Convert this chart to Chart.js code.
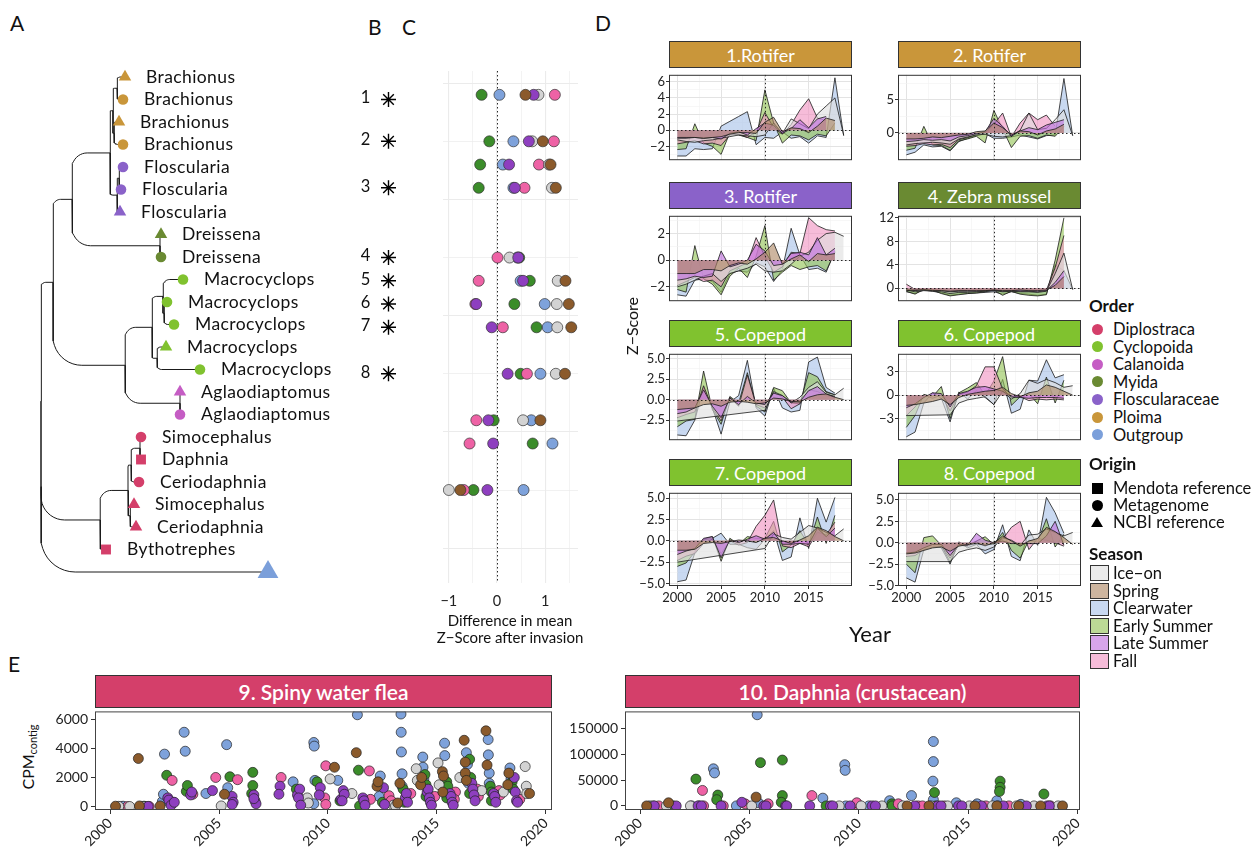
<!DOCTYPE html>
<html><head><meta charset="utf-8">
<script src="https://cdn.jsdelivr.net/npm/chart.js@4.4.1/dist/chart.umd.min.js"></script>
<style>
html,body{margin:0;padding:0;background:#fff;}
#fig{position:relative;width:1257px;height:854px;overflow:hidden;font-family:Lato,'Noto Sans',sans-serif;color:#111;}
#fig canvas{position:absolute;}
.t{position:absolute;white-space:nowrap;line-height:1;}
.strip{position:absolute;box-sizing:border-box;border:1px solid #333;color:#fff;display:flex;align-items:center;justify-content:center;white-space:nowrap;}
</style></head><body><div id="fig"></div>
<script>
// ================= DATA =================
const invasionYear = 2010;
const years = [2000,2001,2002,2003,2004,2005,2006,2007,2008,2009,2010,2011,2012,2013,2014,2015,2016,2017,2018,2019];
const seasons = ['Ice\u2212on','Spring','Clearwater','Early Summer','Late Summer','Fall'];
const orders = ['Diplostraca','Cyclopoida','Calanoida','Myida','Floscularaceae','Ploima','Outgroup'];
const origins = ['Mendota reference','Metagenome','NCBI reference'];

// Panel A: tree tips (name, tip depth, order, origin) and topology [nodeDepth, children...]
const tipNames = ['Brachionus','Brachionus','Brachionus','Brachionus','Floscularia','Floscularia','Floscularia','Dreissena','Dreissena','Macrocyclops','Macrocyclops','Macrocyclops','Macrocyclops','Macrocyclops','Aglaodiaptomus','Aglaodiaptomus','Simocephalus','Daphnia','Ceriodaphnia','Simocephalus','Ceriodaphnia','Bythotrephes',''];
const tipDepth = [125,123,119,123,123,121,120,161,161,183,167,174,166,200,180,180,141,141,139,134,136,106,268];
const tipOrder = ['Ploima','Ploima','Ploima','Ploima','Floscularaceae','Floscularaceae','Floscularaceae','Myida','Myida','Cyclopoida','Cyclopoida','Cyclopoida','Cyclopoida','Cyclopoida','Calanoida','Calanoida','Diplostraca','Diplostraca','Diplostraca','Diplostraca','Diplostraca','Diplostraca','Outgroup'];
const tipOrigin = ['NCBI reference','Metagenome','NCBI reference','Metagenome','Metagenome','Metagenome','NCBI reference','NCBI reference','Metagenome','Metagenome','Metagenome','Metagenome','NCBI reference','Metagenome','NCBI reference','Metagenome','Metagenome','Mendota reference','Metagenome','NCBI reference','NCBI reference','Mendota reference','NCBI reference'];
const treeTopology =
[41,
  [41,
    [53,
      [72,
        [110, [113,[117,0,1],[114,2,3]], [117,[119,4,5],6]],
        [160,7,8]],
      [125,
        [152,[163,9,[164,10,11]],[157,12,13]],
        [180,14,15]]],
    [100,[128,[131,[140,16,17],18],[130,19,20]],21]],
  22];

// Panel B / C
const bLabels = ['1','2','3','4','5','6','7','8'];
const bRows = [1.4,5,9,15,17,19,21,25];
const cRows = [1,5,7,9,15,17,19,21,25,29,31,35];
const cIce    = [0.86,0.73,1.08,1.14,0.26,1.26,1.24,1.25,1.22,0.54,null,-1.00];
const cSpring = [0.59,0.95,1.11,1.22,null,1.42,1.49,1.54,1.41,0.90,null,-0.76];
const cClear  = [0.05,0.34,0.12,0.34,0.42,0.49,0.99,1.05,0.90,0.71,1.15,0.55];
const cEarly  = [-0.32,-0.16,-0.35,-0.38,0.46,0.68,0.36,0.82,0.49,-0.07,0.74,-0.49];
const cLate   = [0.76,0.66,0.25,0.37,0.44,0.54,-0.43,-0.11,0.22,-0.18,-0.08,-0.20];
const cFall   = [1.20,1.18,0.87,0.57,0.01,-0.38,-0.45,0.12,0.62,-0.43,-0.57,-0.69];
const cTicks = [-1,0,1];

// Panel D: z-scores per season [Ice-on, Spring, Clearwater, Early Summer, Late Summer, Fall] per year
const facetTitles = ['1.Rotifer','2. Rotifer','3. Rotifer','4. Zebra mussel','5. Copepod','6. Copepod','7. Copepod','8. Copepod'];
const facetOrder = ['Ploima','Ploima','Floscularaceae','Myida','Cyclopoida','Cyclopoida','Cyclopoida','Cyclopoida'];
const facetYMin = [-3.72,-4.1,-3.08,-2.2,-4.94,-5.73,-5.3,-5.05];
const facetYMax = [6.87,8.76,3.34,12.35,5.6,5.26,5.64,5.83];
const facetYStep = [2,5,2,4,2.5,3,2.5,2.5];
const z1 = [
 [-1.2,-1.4,-1.5,-1.3,-1.2,-1.0,-0.8,-0.6,-0.7,-0.8,-0.6, 0.9,-0.4, 1.4, 0.8, 0.2, 2.0, 3.0, 4.0,-0.6],
 [-0.9,-0.9,-0.9,-1.0,-0.9,-0.8,-0.5,-0.3,-0.3,-0.4, 1.0, 1.6,-0.2, 0.3, 0.2,-0.3, 0.5, 1.5, 1.2,null],
 [-3.2,-3.2,-2.3,-2.4,-2.3, 0.5, 1.1, 1.7, 2.3,-1.8,-0.9,-1.0,-0.2,-1.0,-0.8,-1.6,-0.7,-0.9, 6.5,-0.7],
 [-2.4,-2.3, 0.8,-1.6,-2.0,-3.0,-0.3,-0.6,-0.9,-1.3, 5.0, 0.9,-1.6,-0.6,-0.7,-1.2,-0.5,-0.7, 0.9,null],
 [-1.0,-1.0,-0.9,-1.0,-0.9,-1.1,-0.4,-0.2,-0.6, 0.2, 0.9, 0.6,-0.4, 0.2, 1.3, 0.3, 1.4, 1.7,null,null],
 [-1.7,-1.5,-1.3,-1.7,-1.6,-1.9,-0.6,-0.5,-0.9,-0.2, 2.2, 0.3,-0.5, 0.7, 2.5, 3.9, 1.5, 1.2,null,null]];
const z2 = [
 [-1.8,-1.6,-1.5,-1.4,-1.5,-1.7,-0.9,-0.6,-0.3,-0.2,-0.5,-0.6,-0.4, 0.4, 3.0, 0.5, 0.7, 2.0, 3.5,-0.4],
 [-0.9,-0.9,-0.8,-0.6,-0.7,-0.5,-0.3,-0.2, 0.2, 0.3, 1.5, 0.8,-0.3, 0.3, 0.2,-0.3, 0.3, 0.6, 1.3,null],
 [-3.3,-2.9,-1.8,-2.1,-2.0,-2.7,-1.3,-0.8,-0.4,-0.1,-0.8,-0.8,-0.6,-0.3,-0.6,-0.9,-0.4,-0.3, 8.2,-0.4],
 [-2.6,-2.3, 1.0,-1.8,-1.9,-2.6,-1.2,-0.9,-0.5,-1.5, 3.4, 0.6,-2.2,-0.5,-0.4,-0.8,-0.3,-0.5, 1.0,null],
 [-1.3,-1.2,-1.0,-1.1,-1.0,-1.2,-0.6,-0.4,-0.1, 0.2, 2.2, 1.0,-0.5, 0.3, 0.8, 0.5, 1.2, 1.6, 2.0,null],
 [-2.0,-1.9,-1.6,-1.8,-1.7,-2.2,-1.0,-0.7,-0.2, 0.0, 1.3, 3.0,-0.6, 1.5, 3.0, 2.0, 2.7, 1.0,null,null]];
const z3 = [
 [-2.0,-1.8,-1.5,-1.2,-1.0,-1.6,-1.0,-0.8,-0.6,-0.3,-0.8,-0.9,-0.8,-0.3, 0.3, 0.6, 1.5, 2.0, 2.1, 1.8],
 [-1.0,-1.0,-1.0,-0.7,-0.7,-0.8,-0.4,-0.2,-0.3, 0.1, 0.6, 1.3,-0.3, 0.1, 0.4,-0.1, 0.5, 0.4, 0.5,null],
 [-2.6,-2.7,-1.5,-1.4,-1.6,-2.4,-1.0,-0.8,-0.9,-0.2,-0.5,-1.6,-0.7, 2.4, 0.4,-0.7,-0.6,-0.9, 0.7,null],
 [-2.2,-2.4, 1.1,-1.4,-1.8,-2.6,-1.2,-0.6,-1.3, 0.3, 2.6,-1.5,-0.9,-0.4,-0.7,-0.5,-0.4,-0.8, 0.6,null],
 [-1.5,-1.4,-1.2,-1.3,-1.2, 0.7,-0.5,-0.3, 0.0, 1.2, 0.7,-0.4,-0.3, 0.5, 0.6, 0.4, 1.7, 0.4, 0.9,null],
 [-1.9,-1.6,-1.3,-1.6,-1.5,-2.0,-0.8,-0.5,-0.2, 1.7, 0.3,-0.9,-0.5, 0.6, 0.5, 3.2, 2.6, 2.3, 2.2,null]];
const z4 = [
 [-0.3,-0.6,-0.4,-0.5,-0.6,-0.9,-0.7,-0.7,-0.6,-0.5,-0.4,-0.6,-0.5,-0.6,-0.6,-0.7,-0.5, 2.5, 6.0,-0.2],
 [-0.4,-0.3,-0.3,-0.4,-0.4,-0.5,-0.4,-0.4,-0.4,-0.4,-0.3,-0.4,-0.4,-0.3,-0.4,-0.4,-0.3, 0.5, 2.0,null],
 [-0.6,-0.9,-0.3,-0.5,-0.8,-1.2,-1.0,-0.9,-0.8,-0.7,-0.6,-1.0,-0.6,-0.9,-1.0,-1.2,-1.0, 4.0, 3.0,-0.2],
 [-0.5,-1.0,-0.1,-0.3,-0.9,-1.3,-1.1,-0.9,-0.8,-0.6,-0.3,-1.2,-0.5,-1.0,-1.2,-1.3,-1.1, 4.8,12.0,null],
 [-0.2,-0.4,-0.2,-0.3,-0.4,-0.6,-0.5,-0.5,-0.5,-0.4,-0.3,-0.5,-0.4,-0.5,-0.5,-0.6,-0.4, 1.0, 3.0,null],
 [ 0.7,-0.2,-0.2,-0.3,-0.3,-0.4,-0.3,-0.4,-0.3,-0.3,-0.2,-0.3,-0.3,-0.3,-0.3,-0.4,-0.3, 3.5, 9.0,null]];
const z5 = [
 [-2.6,null,null,null,null,null,null,null,null,null,-1.3, 1.0, 0.5,-0.4, 0.3, 1.5, 2.2, 0.9, 0.6, 1.4],
 [-1.2,-1.1,-1.0,-0.6,-0.5,-0.8,-0.3,-0.2,-0.3,-0.5,-0.4, 0.2, 0.1,-0.2,-0.3, 0.3, 0.6, 0.7, 0.3, 0.0],
 [-4.3,-4.4,-2.5, 1.5,-1.0,-4.2,-0.3, 0.5, 4.8,-1.0,-2.0, 1.4,-1.0,-1.5,-1.3, 4.6, 5.2, 1.5, 0.8,null],
 [-3.3,-2.6,-2.4, 3.5,-1.2,-3.0, 0.4,-0.4, 3.3,-0.8,-1.5, 1.5, 1.1,-0.4,-0.5, 3.3, 2.8, 1.0, 0.6,null],
 [-1.7,-1.5,-1.0, 1.2,-0.8,-2.2, 0.2,-0.6, 0.4,-0.4,-0.6, 0.8, 0.5,-0.3,-0.2, 1.1, 1.6, 0.7, 0.4,null],
 [-2.2,-1.8,-1.5, 1.7,-1.0,-2.6, 0.3,-0.8, 3.0,-0.6,-1.0, 0.9, 0.3,-1.1,-0.5, 1.2, 1.0, 0.5, 0.3,null]];
const z6 = [
 [-2.6,null,null,null,null,-2.5,-1.0,-0.6,-0.4,-0.2,-1.2, 0.5,-0.5, 0.2, 1.9, 1.5, 2.0, 1.6, 1.0, 1.2],
 [-1.3,-1.2,-1.0,-0.8,-0.5,-1.2,-0.3, 0.1, 0.3, 0.5, 0.6, 1.0, 0.2,-0.2, 0.3, 0.5, 1.3, 1.0, 0.5, 0.0],
 [-5.3,-4.7,-1.0, 0.3,-0.4,-3.4, 0.4,-0.5, 0.6,-0.3,-1.2, 2.0,-2.3,-1.8, 1.9, 1.8, 4.5, 2.2, 2.6,null],
 [-4.1,-2.6, 0.1,-0.2, 1.1,-3.0, 0.3, 0.9, 1.6, 0.0, 1.8, 4.9,-1.3,-0.2, 0.2,-1.1, 2.3,-1.0, 1.9,null],
 [-1.6,-1.1,-0.3, 0.3, 0.2,-1.5, 0.2, 0.5, 1.0, 1.1, 0.8, 0.5,-0.2,-0.3,-0.4,-0.3,-0.3,-0.3,-0.4,null],
 [-2.6,-1.5, 0.0,-0.4, 0.0,-2.0, 0.1, 0.4, 1.2, 3.6, 3.6, 0.8,-0.3,-0.2,-0.7,-0.5,-0.6,-0.5,-0.6,null]];
const z7 = [
 [-2.5,null,null,null,null,null,null,null,null,null,-0.9, 0.8, 0.4, 0.2, 1.0, 1.8, 1.5, 1.0, 0.6, 1.4],
 [-1.1,-1.1,-1.0,-0.3,-0.2,-0.3,-0.1, 0.1, 0.0,-0.2, 0.3, 0.4, 0.0,-0.3, 0.1, 0.6, 1.6, 1.2, 0.5, 0.0],
 [-4.8,-4.6,-1.4, 0.1, 0.3, 0.9,-0.4,-0.4,-0.8,-1.0, 0.2, 1.2,-2.3,-1.9, 2.7,-0.9, 5.0, 2.2, 5.1,null],
 [-3.0,-2.6,-1.3, 0.2, 0.5,-2.4, 0.3,-0.4, 0.5, 0.3, 0.3, 2.3,-1.3,-0.5, 1.2,-0.5, 2.8,-0.3, 3.0,null],
 [-1.6,-1.2,-0.9, 0.3, 0.5,-2.0, 0.1,-0.2, 0.2, 0.6, 0.2, 1.0,-0.4,-0.4,-0.3,-0.4, 1.5, 0.5, 1.5,null],
 [-2.3,-1.8,-1.5,-0.3, 0.2,-1.5, 0.0,-0.5,-0.2, 1.7, 3.0, 4.8,-0.6,-0.8,-0.3,-0.7, 1.0, 0.7, 2.2,null]];
const z8 = [
 [-2.2,null,null,null,null,-2.2,-1.1,-0.8,-0.6,-0.9,-0.5, 0.6, 0.3,-0.3, 0.9, 1.0, 1.6, 1.2, 0.8, 1.2],
 [-1.3,-1.2,-0.9,-0.6,-0.5,-1.0,-0.4,-0.2,-0.1,-0.3,-0.1, 0.8, 0.2,-0.4, 0.2, 0.5, 1.8, 1.3, 0.6,-0.2],
 [-4.1,-4.6,-0.8,-0.3,-0.6,-2.5, 0.1,-0.6,-0.2,-1.3,-0.8, 2.1,-1.6,-2.1, 1.5,-0.3, 5.3, 3.5, 1.1,null],
 [-2.5,-3.5, 0.6, 0.8,-0.3,-2.3, 0.0,-0.3, 0.2, 0.7,-0.2, 1.2,-0.9,-1.8, 0.3, 0.1, 2.8,-0.5, 1.0,null],
 [-1.2,-1.1,-0.6,-0.2,-0.2,-1.5,-0.2,-0.3, 1.1, 0.3, 0.0, 0.2,-0.1,-0.1,-0.1,-0.1, 0.8, 2.5,-0.3,null],
 [-1.6,-1.5,-0.8,-0.5,-0.4,-1.8,-0.3,-0.4, 0.1,-0.4, 0.1, 0.4, 1.8, 2.5,-0.8, 0.5, 0.3, 0.0,-0.4,null]];
const zFacets = [z1,z2,z3,z4,z5,z6,z7,z8];

// Panel E: CPM per sample [decimal year, CPM]
const fleaIce = [[2000.4,20],[2000.9,10],[2001.5,10],[2005.1,50],[2009.05,600],[2009.1,250],[2010.1,1900],[2011.1,900],[2013.0,100],[2013.1,50],[2014.05,2600],[2014.1,1800],[2015.05,3000],[2015.1,1500],[2016.05,2000],[2017.05,1100],[2018.05,1000],[2019.05,2750],[2019.1,1400],[2019.12,900]];
const fleaSpring = [[2000.25,30],[2001.3,3300],[2001.35,50],[2002.3,50],[2005.25,850],[2010.3,2700],[2011.3,3700],[2012.25,1400],[2012.3,1700],[2013.2,250],[2013.3,1600],[2014.25,1500],[2014.3,2000],[2015.25,2400],[2015.3,2100],[2015.27,1000],[2016.25,4550],[2016.3,3050],[2016.3,2300],[2016.35,1800],[2017.25,5200],[2017.3,2850],[2018.25,1500],[2018.3,2300],[2019.25,900]];
const fleaClear = [[2000.5,20],[2000.6,30],[2001.6,20],[2002.4,350],[2002.45,850],[2002.5,3600],[2003.4,5100],[2003.45,3800],[2004.4,900],[2005.35,4250],[2005.4,1300],[2008.4,1700],[2009.35,4400],[2009.37,4150],[2009.4,1800],[2009.35,200],[2010.45,1800],[2011.35,6300],[2012.4,2100],[2012.35,700],[2013.35,6350],[2013.36,5100],[2013.37,3750],[2013.4,2250],[2013.4,1400],[2014.35,3400],[2014.36,2700],[2014.4,1900],[2015.35,4350],[2015.36,3500],[2015.4,1200],[2016.35,3700],[2016.4,2900],[2016.4,2000],[2016.45,1600],[2017.35,4600],[2017.36,3550],[2017.4,2300],[2017.4,1600],[2018.35,2650],[2018.4,1900]];
const fleaEarly = [[2001.55,30],[2002.6,2150],[2003.5,1050],[2003.55,1450],[2005.5,2050],[2006.5,900],[2006.55,1450],[2006.55,2350],[2008.55,1200],[2009.5,1700],[2010.55,400],[2011.4,2500],[2011.45,50],[2012.5,300],[2013.45,1200],[2013.5,300],[2014.45,2200],[2014.5,1500],[2014.5,700],[2015.45,1700],[2015.5,1400],[2015.45,600],[2016.5,3250],[2016.55,2000],[2016.5,900],[2017.45,1400],[2017.5,1000],[2017.5,400],[2018.45,1700],[2018.5,1200]];
const fleaLate = [[2001.75,20],[2002.65,600],[2002.7,450],[2002.8,100],[2002.95,300],[2003.7,800],[2003.75,1000],[2004.7,1100],[2005.6,700],[2005.65,300],[2005.6,150],[2006.6,800],[2006.65,400],[2006.7,200],[2006.6,550],[2007.8,1400],[2007.75,850],[2008.6,800],[2008.7,1200],[2008.65,600],[2008.75,100],[2009.65,1300],[2009.6,800],[2010.6,500],[2010.7,1100],[2010.75,850],[2010.65,400],[2011.6,600],[2011.65,400],[2011.7,100],[2012.55,1300],[2012.6,150],[2013.55,600],[2013.6,900],[2013.65,300],[2014.55,1000],[2014.6,1200],[2014.65,600],[2014.7,300],[2014.75,100],[2015.6,900],[2015.65,700],[2015.7,300],[2015.75,100],[2016.6,1600],[2016.65,1200],[2016.7,800],[2016.75,400],[2017.6,900],[2017.65,700],[2017.7,300],[2018.55,2000],[2018.6,1000],[2018.65,400],[2018.7,300]];
const fleaFall = [[2000.8,10],[2001.8,10],[2002.85,1800],[2002.9,300],[2003.8,850],[2004.85,2000],[2005.85,1850],[2007.85,2000],[2008.85,350],[2009.85,600],[2009.9,150],[2009.9,2800],[2011.9,2450],[2011.95,500],[2012.8,750],[2012.9,400],[2013.8,900],[2014.9,700],[2015.85,1000],[2015.8,500],[2016.85,1200],[2016.9,700],[2017.85,1100],[2017.9,800],[2018.8,500]];
const daphIce = [[2000.6,0],[2001.2,0],[2002.3,0],[2005.1,0],[2009.1,0],[2010.1,0],[2011.05,0],[2012.0,0],[2013.3,0],[2014.05,0],[2015.05,0],[2016.1,0],[2017.2,0],[2018.0,0],[2019.1,0]];
const daphSpring = [[2000.3,0],[2001.3,6000],[2005.3,17000],[2012.2,0],[2013.2,0],[2015.3,0],[2016.3,0],[2017.3,0],[2018.3,0],[2019.3,0]];
const daphClear = [[2000.45,0],[2001.4,0],[2002.35,0],[2002.7,0],[2003.35,72000],[2003.4,64000],[2004.4,0],[2005.35,177000],[2005.4,6000],[2008.35,15000],[2009.35,80000],[2009.37,69000],[2009.4,0],[2010.45,0],[2011.4,10000],[2012.4,20000],[2013.4,125000],[2013.4,86000],[2013.38,48000],[2013.4,12000],[2014.45,6000],[2015.4,4000],[2016.3,10000],[2016.35,0],[2017.4,3000]];
const daphEarly = [[2001.5,0],[2002.55,52000],[2003.55,21000],[2003.5,12000],[2005.5,84000],[2006.5,89000],[2006.5,20000],[2006.45,7000],[2008.5,0],[2011.5,4000],[2011.52,0],[2013.45,26000],[2013.5,0],[2016.45,48000],[2016.45,36000],[2016.42,28000],[2018.45,23000]];
const daphLate = [[2000.65,0],[2001.65,0],[2002.65,0],[2002.8,0],[2003.7,0],[2004.65,7000],[2005.65,0],[2005.75,0],[2006.65,0],[2006.7,0],[2007.75,0],[2008.7,0],[2008.8,0],[2009.6,0],[2010.6,0],[2010.75,0],[2012.55,0],[2013.6,0],[2013.75,0],[2014.55,0],[2014.7,0],[2015.6,0],[2016.6,0],[2017.65,0],[2018.6,0],[2018.7,0]];
const daphFall = [[2000.85,0],[2002.85,30000],[2002.9,0],[2003.8,0],[2004.8,4000],[2005.85,4000],[2007.85,20000],[2009.8,0],[2009.9,6000],[2011.8,4000],[2012.7,0],[2012.9,0],[2013.9,0],[2015.8,0],[2016.85,0],[2018.75,0]];
const fleaTicks = [0,2000,4000,6000];
const daphTicks = [0,50000,100000,150000];
const eYearTicks = [2000,2005,2010,2015,2020];

// ================= STYLE =================
const seasonDot = ['#D3D3D3','#8B5A2B','#7EA2DB','#3B8C2A','#8E3FBF','#EE62A5'];
const seasonSwatch = ['#EBEBEB','#CDB59F','#C9D9F1','#BCDA96','#D7A5EA','#F6BCD9'];
const fillAlpha = 0.62;
const seasonFill = seasonSwatch.map(h=>{
  const c = [1,3,5].map(k=>parseInt(h.substr(k,2),16)).map(v=>Math.round(255-(255-v)/fillAlpha));
  return 'rgba('+c.join(',')+','+fillAlpha+')';
});
// ggplot draws groups alphabetically: Clearwater, Early Summer, Fall, Ice-on, Late Summer, Spring (last on top)
const drawSeq = [2,3,5,0,4,1];
const orderColors = ['#D43F6A','#80C22F','#C55DC4','#6A8A32','#8A62C9','#C9963A','#7B9FDA'];
const originStyle = ['rect','circle','triangle'];
const FONT = "Lato, 'Noto Sans', sans-serif";
Chart.defaults.font.family = FONT;
Chart.defaults.color = '#222';
Chart.defaults.plugins.legend.display = false;
Chart.defaults.plugins.tooltip.enabled = false;

const fig = document.getElementById('fig');
function mk(x, y, w, h, cfg){
  const c = document.createElement('canvas');
  c.width = w; c.height = h;
  c.style.left = x+'px'; c.style.top = y+'px'; c.style.width = w+'px'; c.style.height = h+'px';
  fig.appendChild(c);
  cfg.options = Object.assign({responsive:false, maintainAspectRatio:false, animation:false, devicePixelRatio:1, events:[]}, cfg.options);
  return new Chart(c, cfg);
}
function txt(s, x, y, css){
  const d = document.createElement('div'); d.className = 't'; d.textContent = s;
  d.style.left = x+'px'; d.style.top = y+'px'; Object.assign(d.style, css||{}); fig.appendChild(d); return d;
}
const orderColor = o => orderColors[orders.indexOf(o)];
const fmt = (v, dec) => (v < 0 ? '\u2212' : '') + Math.abs(v).toFixed(dec);
// Chart.js draws dataset 0 on top, so list datasets in reverse drawing order
const inDrawOrder = arr => drawSeq.map(k=>arr[k]).reverse();

// plugins
const framePlugin = { id:'frame', afterDraw(chart, args, o){
  if (!o || !o.color) return; const a = chart.chartArea, ctx = chart.ctx;
  ctx.save(); ctx.strokeStyle = o.color; ctx.lineWidth = o.width || 1;
  ctx.strokeRect(a.left+0.5, a.top+0.5, a.right-a.left-1, a.bottom-a.top-1); ctx.restore(); } };
function drawRefs(chart, o){
  const {ctx, chartArea:ca, scales} = chart;
  ctx.save(); ctx.beginPath(); ctx.rect(ca.left, ca.top, ca.right-ca.left, ca.bottom-ca.top); ctx.clip();
  ctx.setLineDash([1.5,2.5]); ctx.strokeStyle = '#111'; ctx.lineWidth = 0.9;
  (o.x||[]).forEach(v=>{ const p = Math.round(scales.x.getPixelForValue(v))+0.5; ctx.beginPath(); ctx.moveTo(p, ca.top); ctx.lineTo(p, ca.bottom); ctx.stroke(); });
  (o.y||[]).forEach(v=>{ const p = Math.round(scales.y.getPixelForValue(v))+0.5; ctx.beginPath(); ctx.moveTo(ca.left, p); ctx.lineTo(ca.right, p); ctx.stroke(); });
  ctx.restore();
}
const refPlugin = { id:'refs',
  beforeDatasetsDraw(chart, a, o){ if (o && o.before) drawRefs(chart, o); },
  afterDatasetsDraw(chart, a, o){ if (o && !o.before && (o.x || o.y)) drawRefs(chart, o); } };
const textPlugin = { id:'texts', afterDraw(chart, a, o){
  if (!o || !o.items) return; const ctx = chart.ctx;
  ctx.save(); ctx.font = o.font; ctx.fillStyle = o.color || '#111'; ctx.textAlign = o.align || 'left'; ctx.textBaseline = 'middle';
  if (o.spacing) ctx.letterSpacing = o.spacing;
  o.items.forEach(it=>{ if (!it.text) return; ctx.fillText(it.text, chart.scales.x.getPixelForValue(it.x) + (o.dx||0), chart.scales.y.getPixelForValue(it.y) + (o.dy||0)); });
  ctx.restore(); } };

// ================= PANEL LETTERS =================
const letterCss = {fontSize:'21px', color:'#111'};
txt('A', 10, 12, letterCss); txt('B', 368, 16, letterCss); txt('C', 402, 16, letterCss);
txt('D', 595, 12, letterCss); txt('E', 8, 653, letterCss);

// ================= PANEL A : tree =================
const rowPx = 22.5;
const edgePts = [];
function lay(node){
  if (typeof node === 'number') return {x: tipDepth[node], y: node + 1};
  const kids = node.slice(1).map(lay);
  const y = kids.reduce((s,k)=>s+k.y, 0) / kids.length;
  const x = node[0];
  kids.forEach(k=>{
    const dyPx = (k.y - y) * rowPx, dxPx = k.x - x;
    const r = Math.min(0.4 * Math.min(Math.abs(dyPx), dxPx), 40);
    const sg = Math.sign(k.y - y);
    edgePts.push({x, y});
    if (r > 0.5) {
      const cx = x + r, cy = k.y - sg * r / rowPx;
      for (let t = 0; t <= 10; t++){ const an = t/10*Math.PI/2; edgePts.push({x: cx - r*Math.cos(an), y: cy + sg*r*Math.sin(an)/rowPx}); }
    } else edgePts.push({x, y:k.y});
    edgePts.push({x:k.x, y:k.y});
    edgePts.push({x:k.x, y:null});
  });
  return {x, y};
}
lay(treeTopology);
const tipPts = tipNames.map((n,i)=>({x: tipDepth[i], y: i+1}));
mk(0, 50, 360, 540, {type:'scatter',
  data:{datasets:[
    {data: tipPts, pointStyle: tipOrigin.map(o=>originStyle[origins.indexOf(o)]),
     pointRadius: tipOrigin.map((o,i)=> i===22 ? 12 : (o==='NCBI reference' ? 7.2 : (o==='Mendota reference' ? 7 : 5.3))),
     pointBackgroundColor: tipOrder.map(orderColor), pointBorderWidth: 0, borderWidth: 0},
    {data: edgePts, showLine: true, spanGaps: false, pointRadius: 0, borderColor: '#1a1a1a', borderWidth: 1, tension: 0}
  ]},
  options:{ layout:{padding:0, autoPadding:false},
    scales:{ x:{type:'linear', display:false, min:0, max:360}, y:{type:'linear', display:false, reverse:true, min:1-27/rowPx, max:1+(540-27)/rowPx} },
    plugins:{ texts:{ items: tipNames.map((n,i)=>({x: tipDepth[i], y: i+1, text: n})), font: "17.5px "+FONT, color:'#111', dx: 21, spacing:'0.4px' } } },
  plugins:[textPlugin]});

// ================= PANEL B =================
const cTop = 71, cBot = 583, cYMin = -1.05, cYMax = 43;
mk(355, 60, 50, 560, {type:'scatter',
  data:{datasets:[{data: bRows.map(r=>({x:0.67, y:r})), pointStyle:'star', pointRadius:7.5, borderColor:'#000', borderWidth:1.4, pointBorderWidth:1.4}]},
  options:{ layout:{autoPadding:false, padding:{top: cTop-60, bottom: 620-cBot, left:0, right:0}},
    scales:{ x:{type:'linear', display:false, min:0, max:1}, y:{type:'linear', display:false, reverse:true, min:cYMin, max:cYMax} },
    plugins:{ texts:{ items: bLabels.map((l,i)=>({x:0.21, y:bRows[i], text:l})), font:"16.5px "+FONT, color:'#111', align:'center', dy:-1.5 } } },
  plugins:[textPlugin]});

// ================= PANEL C =================
const cSeries = [cIce, cSpring, cClear, cEarly, cLate, cFall];
const cSets = cSeries.map((arr,k)=>({label: seasons[k],
    data: arr.map((v,i)=> v===null ? null : ({x:v, y:cRows[i]})).filter(p=>p),
    pointRadius:5.5, pointBackgroundColor: seasonDot[k], pointBorderColor:'#333', pointBorderWidth:0.7}));
mk(430, 60, 160, 560, {type:'scatter',
  data:{datasets: inDrawOrder(cSets)},
  options:{ layout:{autoPadding:false, padding:{top: cTop-60, right: 12, left:0, bottom:0}},
    scales:{
      x:{type:'linear', min:-1.12, max:1.68, afterFit: s=>{ s.height = 620-cBot; },
         afterBuildTicks: s=>{ s.ticks = [-1,-0.5,0,0.5,1,1.5].map(v=>({value:v})); },
         grid:{color:'#EBEBEB', lineWidth: c=> Number.isInteger(c.tick.value) ? 1.1 : 0.6, drawTicks:false},
         border:{display:false},
         ticks:{autoSkip:false, maxRotation:0, padding:10, font:{size:14.5}, color:'#222', callback: v=> cTicks.includes(v) ? fmt(v,0) : ''}},
      y:{type:'linear', reverse:true, min:cYMin, max:cYMax, afterFit: s=>{ s.width = 10; },
         afterBuildTicks: s=>{ s.ticks = [0,5,10,15,20,25,30,35,40].map(v=>({value:v})); },
         grid:{color:'#EBEBEB', lineWidth: c=> c.tick.value % 10 === 0 ? 1.1 : 0.7, drawTicks:false},
         border:{display:false}, ticks:{display:false}}
    },
    plugins:{ refs:{x:[0], before:true} } },
  plugins:[refPlugin]});
txt('Difference in mean', 510, 620, {fontSize:'15px', transform:'translate(-50%,-50%)', color:'#111'});
txt('Z\u2212Score after invasion', 510, 637, {fontSize:'15px', transform:'translate(-50%,-50%)', color:'#111'});

// ================= PANEL D =================
const colL = [669, 898], plotW = 183;
const plotT = [67, 208, 346, 485], plotH = [100, 100, 101, 101];
const dXMin = 1999.05, dXMax = 2019.95;
const dXTicks = [2000,2002.5,2005,2007.5,2010,2012.5,2015,2017.5];
const majC = '#E3E3E3', minC = '#F1F1F1';
for (let i = 0; i < 8; i++){
  const c = i % 2, r = Math.floor(i / 2), bottom = (r === 3);
  const px = colL[c], py = plotT[r], ph = plotH[r];
  const sd = document.createElement('div'); sd.className = 'strip'; sd.textContent = facetTitles[i];
  Object.assign(sd.style, {left:px+'px', top:(py-26)+'px', width:plotW+'px', height:'27px', background: orderColor(facetOrder[i]), fontSize:'18px'});
  fig.appendChild(sd);
  const step = facetYStep[i], half = step/2, dec = (step % 1) ? 1 : 0;
  const yMin = facetYMin[i], yMax = facetYMax[i];
  const yT = []; for (let v = Math.ceil(yMin/half)*half; v <= yMax + 1e-9; v += half) yT.push(Math.round(v*1000)/1000);
  const isMajY = v => Math.abs(v/step - Math.round(v/step)) < 1e-6;
  const isMajX = v => v % 5 === 0;
  const sets = zFacets[i].map((vals,k)=>({label: seasons[k],
    data: years.map((yr,j)=>({x:yr, y:vals[j]})), fill:'origin', backgroundColor: seasonFill[k],
    borderColor:'#1a1a1a', borderWidth:0.8, pointRadius:0, spanGaps:true, tension:0}));
  const ml = 42, mr = 6, mt = 1, mb = bottom ? 24 : 2;
  mk(px-ml, py-mt, plotW+ml+mr, ph+mt+mb, {type:'line', data:{datasets: inDrawOrder(sets)},
    options:{ layout:{autoPadding:false, padding:{left:0, right:mr, top:mt, bottom:0}},
      plugins:{ frame:{color:'#333', width:1}, refs:{x:[invasionYear], y:[0]}, filler:{propagate:false, drawTime:'beforeDatasetDraw'} },
      scales:{
        x:{type:'linear', min:dXMin, max:dXMax, afterFit: s=>{ s.height = mb; },
           afterBuildTicks: s=>{ s.ticks = dXTicks.map(v=>({value:v})); },
           grid:{color: c=> isMajX(c.tick.value) ? majC : minC, lineWidth: c=> isMajX(c.tick.value) ? 1 : 0.6,
                 drawTicks: bottom, tickLength:3, tickColor: c=> isMajX(c.tick.value) ? '#333' : 'rgba(0,0,0,0)', tickWidth:1},
           border:{display:false},
           ticks:{display: bottom, autoSkip:false, maxRotation:0, minRotation:0, padding:1, font:{size:13}, color:'#222', callback: v=> isMajX(v) ? String(v) : ''}},
        y:{type:'linear', min:yMin, max:yMax, afterFit: s=>{ s.width = ml; },
           afterBuildTicks: s=>{ s.ticks = yT.map(v=>({value:v})); },
           grid:{color: c=> isMajY(c.tick.value) ? majC : minC, lineWidth: c=> isMajY(c.tick.value) ? 1 : 0.6,
                 drawTicks:true, tickLength:3, tickColor: c=> isMajY(c.tick.value) ? '#333' : 'rgba(0,0,0,0)', tickWidth:1},
           border:{display:false},
           ticks:{autoSkip:false, padding:1, font:{size:13}, color:'#222', callback: v=> isMajY(v) ? fmt(v, dec) : ''}}
      } },
    plugins:[refPlugin, framePlugin]});
}
txt('Z\u2212Score', 632, 326, {fontSize:'16px', transform:'translate(-50%,-50%) rotate(-90deg)', color:'#111'});
txt('Year', 870, 634, {fontSize:'22px', transform:'translate(-50%,-50%)', color:'#111'});

// ================= LEGENDS =================
const lgX = 1089, lgMark = 1097, lgText = 1113, lgFont = '16.5px';
txt('Order', lgX, 305, {fontSize:'17px', fontWeight:'700', transform:'translateY(-50%)'});
orders.forEach((o,i)=>{
  const y = 329 + i*17.6;
  const d = document.createElement('div');
  Object.assign(d.style, {position:'absolute', left:(lgMark-5.5)+'px', top:(y-5.5)+'px', width:'11px', height:'11px', borderRadius:'50%', background: orderColors[i]});
  fig.appendChild(d);
  txt(o, lgText, y, {fontSize:lgFont, transform:'translateY(-50%)'});
});
txt('Origin', lgX, 463, {fontSize:'17px', fontWeight:'700', transform:'translateY(-50%)'});
origins.forEach((o,i)=>{
  const y = 488 + i*17.2;
  const d = document.createElement('div');
  if (originStyle[i] === 'triangle') {
    Object.assign(d.style, {position:'absolute', left:(lgMark-6)+'px', top:(y-5.5)+'px', width:0, height:0, borderLeft:'6px solid transparent', borderRight:'6px solid transparent', borderBottom:'10px solid #000'});
  } else {
    Object.assign(d.style, {position:'absolute', left:(lgMark-5.5)+'px', top:(y-5.5)+'px', width:'11px', height:'11px', background:'#000', borderRadius: originStyle[i]==='circle' ? '50%' : '0'});
  }
  fig.appendChild(d);
  txt(o, lgText, y, {fontSize:lgFont, transform:'translateY(-50%)'});
});
txt('Season', lgX, 553, {fontSize:'17px', fontWeight:'700', transform:'translateY(-50%)'});
seasons.forEach((s,i)=>{
  const y = 573 + i*17.5;
  const d = document.createElement('div');
  Object.assign(d.style, {position:'absolute', left:'1090px', top:(y-8)+'px', width:'19px', height:'16px', boxSizing:'border-box', border:'1.3px solid #333', background: seasonSwatch[i]});
  fig.appendChild(d);
  txt(s, lgText, y, {fontSize:lgFont, transform:'translateY(-50%)'});
});

// ================= PANEL E =================
function ePanel(left, chartL, chartR, title, series, yMin, yMax, yTicks, xMin, xMax){
  const sd = document.createElement('div'); sd.className = 'strip'; sd.textContent = title;
  Object.assign(sd.style, {left:chartL+'px', top:'675px', width:(chartR-chartL)+'px', height:'33px', background: orderColor('Diplostraca'), fontSize:'21px', fontWeight:'600'});
  fig.appendChild(sd);
  const cw = chartR + 20 - left, ml = chartL - left;
  const sets = series.map((arr,k)=>({label: seasons[k], data: arr.map(p=>({x:p[0], y:p[1]})),
      pointRadius:5, pointBackgroundColor: seasonDot[k], pointBorderColor:'#222', pointBorderWidth:0.7}));
  mk(left, 700, cw, 154, {type:'scatter',
    data:{datasets: inDrawOrder(sets)},
    options:{ layout:{autoPadding:false, padding:{top:7, right:20, left:0, bottom:0}},
      plugins:{ frame:{color:'#444', width:1} },
      scales:{
        x:{type:'linear', min:xMin, max:xMax, afterFit: s=>{ s.height = 44; },
           afterBuildTicks: s=>{ s.ticks = eYearTicks.map(v=>({value:v})); },
           grid:{drawOnChartArea:false, drawTicks:true, tickLength:4, tickColor:'#333', color:'#333'}, border:{display:false},
           ticks:{autoSkip:false, minRotation:45, maxRotation:45, padding:1, font:{size:14}, color:'#222', callback: v=> String(v)}},
        y:{type:'linear', min:yMin, max:yMax, afterFit: s=>{ s.width = ml; },
           afterBuildTicks: s=>{ s.ticks = yTicks.map(v=>({value:v})); },
           grid:{drawOnChartArea:false, drawTicks:true, tickLength:4, tickColor:'#333', color:'#333'}, border:{display:false},
           ticks:{autoSkip:false, padding:3, font:{size:14}, color:'#222', callback: v=> String(v)}}
      } },
    plugins:[framePlugin]});
}
ePanel(40, 95, 552, '9. Spiny water flea', [fleaIce, fleaSpring, fleaClear, fleaEarly, fleaLate, fleaFall], -230, 6530, fleaTicks, 1999.31, 2020.28);
ePanel(555, 625, 1080, '10. Daphnia (crustacean)', [daphIce, daphSpring, daphClear, daphEarly, daphLate, daphFall], -8000, 183500, daphTicks, 1999.31, 2020.1);
const cpm = document.createElement('div'); cpm.className = 't';
cpm.innerHTML = 'CPM<sub style="font-size:11px;vertical-align:-3px">contig</sub>';
Object.assign(cpm.style, {left:'29px', top:'757px', fontSize:'16px', transform:'translate(-50%,-50%) rotate(-90deg)'});
fig.appendChild(cpm);
</script></body></html>
